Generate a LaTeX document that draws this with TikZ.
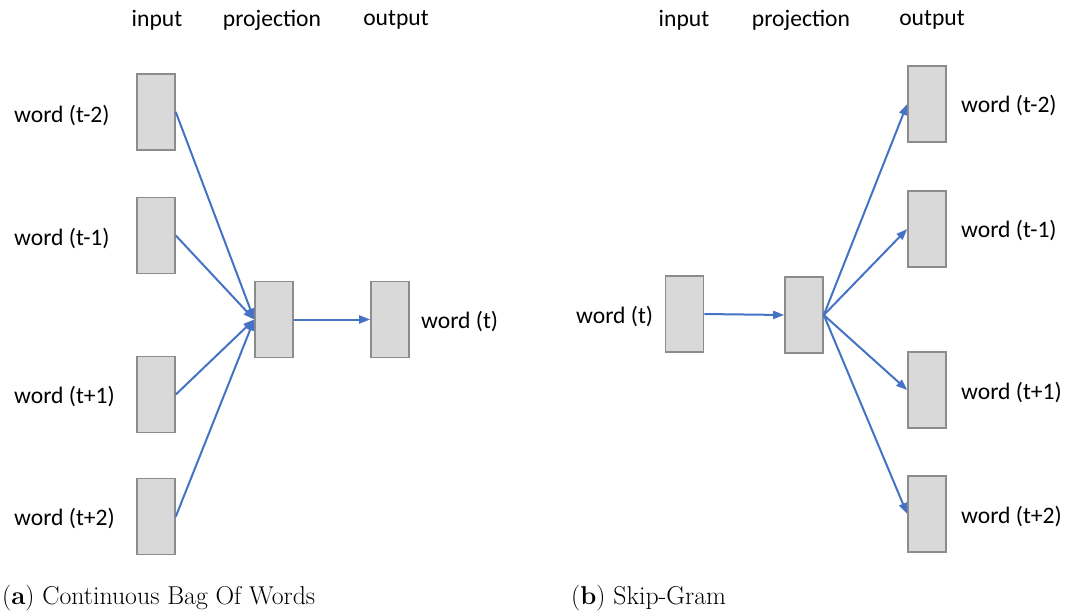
\documentclass[tikz,border=0pt]{standalone}
\usepackage{fontspec}
\setsansfont{Carlito}
\usetikzlibrary{arrows.meta}
\definecolor{boxfill}{HTML}{D9D9D9}
\definecolor{boxline}{HTML}{8C8C8C}
\definecolor{linkblue}{HTML}{4472C4}
\tikzset{
  unit/.style={draw=boxline, fill=boxfill, line width=1.6pt, minimum width=38pt, minimum height=76pt, inner sep=0pt},
  lbl/.style={font=\sffamily\fontsize{23.6}{28}\selectfont, inner sep=0pt},
  hdr/.style={font=\sffamily\fontsize{23.6}{28}\selectfont, inner sep=0pt},
  captext/.style={font=\fontsize{25.8}{30}\selectfont, inner sep=0pt, anchor=west},
  link/.style={draw=linkblue, line width=2pt, -{Triangle[length=11pt,width=8pt]}},
}
\begin{document}
\begin{tikzpicture}[x=1pt,y=-1pt]
\useasboundingbox (0,0) rectangle (1079,614);
% ---- (a) CBOW ----
\node[hdr] (ha1) at (157,20) {input};
\node[hdr] (ha2) at (272,20) {projection};
\node[hdr] (ha3) at (396,20) {output};
\node[unit] (a1) at (156,112) {};
\node[unit] (a2) at (156,235.5) {};
\node[unit] (a3) at (156,394.5) {};
\node[unit] (a4) at (156,516.5) {};
\node[unit] (ap) at (274,319.5) {};
\node[unit] (ao) at (390,319.5) {};
\node[lbl, anchor=west] (la1) at (14,115) {word (t-2)};
\node[lbl, anchor=west] (la2) at (14,238) {word (t-1)};
\node[lbl, anchor=west] (la3) at (14,396) {word (t+1)};
\node[lbl, anchor=west] (la4) at (14,518) {word (t+2)};
\node[lbl, anchor=west] (lao) at (421,321) {word (t)};
\coordinate (apin) at ([yshift=0pt]ap.west);
\draw[link] (a1.east) -- (apin);
\draw[link] (a2.east) -- (apin);
\draw[link] (a3.east) -- (apin);
\draw[link] (a4.east) -- (apin);
\draw[link] (ap.east) -- (ao.west);
% ---- (b) Skip-Gram ----
\node[hdr] (hb1) at (684,20) {input};
\node[hdr] (hb2) at (801,20) {projection};
\node[hdr] (hb3) at (932,20) {output};
\node[unit] (bi) at (684.5,314) {};
\node[unit] (bp) at (804,315) {};
\node[unit] (b1) at (927,104) {};
\node[unit] (b2) at (927,229) {};
\node[unit] (b3) at (927,390) {};
\node[unit] (b4) at (927,514) {};
\node[lbl, anchor=west] (lbi) at (576,316) {word (t)};
\node[lbl, anchor=west] (lb1) at (961,105) {word (t-2)};
\node[lbl, anchor=west] (lb2) at (961,230) {word (t-1)};
\node[lbl, anchor=west] (lb3) at (961,392) {word (t+1)};
\node[lbl, anchor=west] (lb4) at (961,516) {word (t+2)};
\draw[link] (bi.east) -- (bp.west);
\draw[link] (bp.east) -- (b1.west);
\draw[link] (bp.east) -- (b2.west);
\draw[link] (bp.east) -- (b3.west);
\draw[link] (bp.east) -- (b4.west);
% ---- captions ----
\node[captext] (ca) at (2,598) {(\textbf{a}) Continuous Bag Of Words};
\node[captext] (cb) at (571,598) {(\textbf{b}) Skip-Gram};
\end{tikzpicture}
\end{document}
